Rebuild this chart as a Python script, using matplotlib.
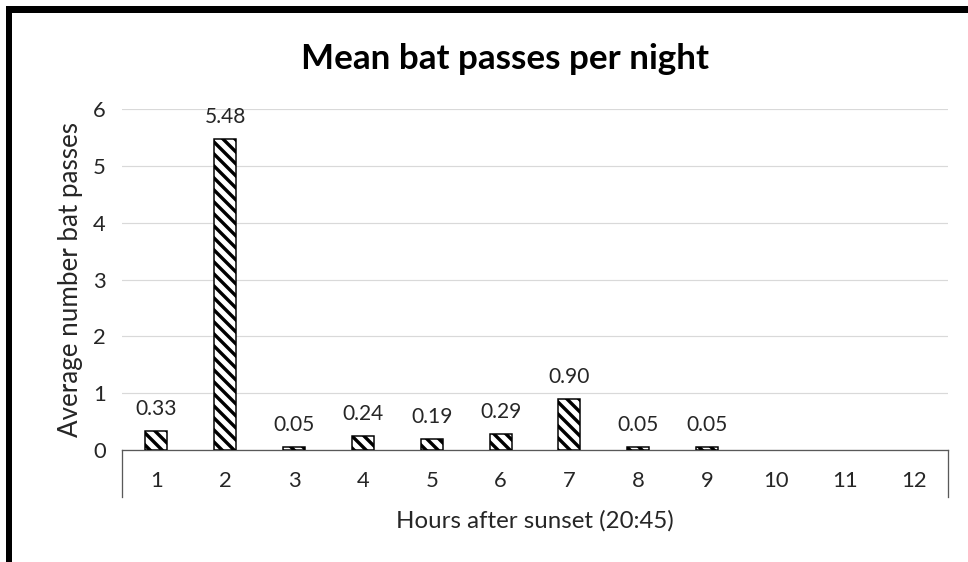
import matplotlib
matplotlib.use('Agg')
import matplotlib.pyplot as plt
from matplotlib.patches import Rectangle

# data
hours = ['1', '2', '3', '4', '5', '6', '7', '8', '9', '10', '11', '12']
mean_passes = [0.33, 5.48, 0.05, 0.24, 0.19, 0.29, 0.90, 0.05, 0.05, 0, 0, 0]
value_labels = ['0.33', '5.48', '0.05', '0.24', '0.19', '0.29', '0.90', '0.05', '0.05', '', '', '']
y_ticks = [0, 1, 2, 3, 4, 5, 6]

plt.rcParams['font.family'] = ['Lato', 'DejaVu Sans']
plt.rcParams['hatch.linewidth'] = 3.4
plt.rcParams['hatch.color'] = 'black'

# dpi 72 so that points == pixels
W, H = 968, 562
fig = plt.figure(figsize=(W / 72, H / 72), dpi=72)
ax = fig.add_axes([122 / W, 1 - 450 / H, (948 - 122) / W, (450 - 109) / H])

x = list(range(len(hours)))
bars = ax.bar(x, mean_passes, width=0.32, color='white', edgecolor='black',
              linewidth=1.5, hatch='\\\\', zorder=3)

for rect, lab in zip(bars, value_labels):
    if rect.get_height() == 0:
        rect.set_visible(False)
    if lab:
        ax.annotate(lab, (rect.get_x() + rect.get_width() / 2, rect.get_height()),
                    xytext=(0, 12), textcoords='offset points',
                    ha='center', va='bottom', fontsize=21, color='#262626')

ax.set_xlim(-0.5, len(hours) - 0.5)
ax.set_ylim(0, 6)
ax.set_yticks(y_ticks)
ax.set_yticklabels([str(t) for t in y_ticks], fontsize=22, color='#262626')
ax.set_xticks(x)
ax.set_xticklabels(hours, fontsize=22, color='#262626')
ax.tick_params(axis='both', length=0)
ax.tick_params(axis='y', pad=16)
ax.tick_params(axis='x', pad=21)

ax.grid(axis='y', color='#d9d9d9', linewidth=1.2, zorder=0)
ax.set_axisbelow(True)
for side in ['left', 'right', 'top']:
    ax.spines[side].set_visible(False)
ax.spines['bottom'].set_color('#595959')
ax.spines['bottom'].set_linewidth(1.3)

# category axis box sides
for xe in [0, 1]:
    ax.plot([xe, xe], [0, -47 / 341], transform=ax.transAxes, color='#595959',
            linewidth=1.3, clip_on=False)

ax.set_xlabel('Hours after sunset (20:45)', fontsize=24, color='#262626', labelpad=19)
ax.set_ylabel('Average number bat passes', fontsize=26, color='#262626', labelpad=10)

fig.text(505 / W, 1 - 59 / H, 'Mean bat passes per night', ha='center', va='center',
         fontsize=35, fontweight='bold', color='black')

# black frame on top and left edges
fig.patches.append(Rectangle((6 / W, 0), 5 / W, (H - 6) / H, transform=fig.transFigure,
                             color='black', zorder=10))
fig.patches.append(Rectangle((6 / W, 1 - 12 / H), 1, 6 / H, transform=fig.transFigure,
                             color='black', zorder=10))

fig.savefig('out.png', dpi=72, facecolor='white')
